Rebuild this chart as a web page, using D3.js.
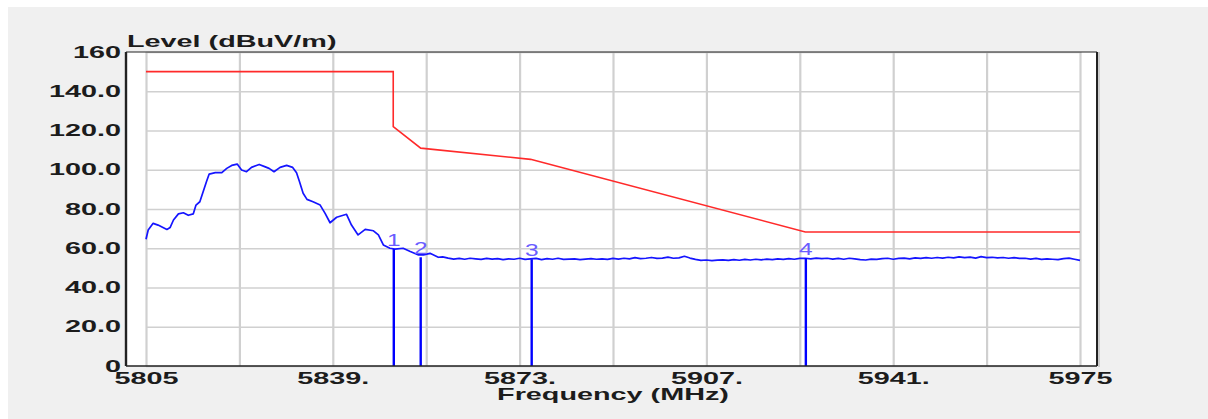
<!DOCTYPE html>
<html><head><meta charset="utf-8">
<script src="https://cdn.jsdelivr.net/npm/d3@7"></script>
<style>html,body{margin:0;padding:0;background:#fff;} svg{display:block;}</style>
</head><body>
<svg id="chart" width="1208" height="419"></svg>
<script>
// ---------- data ----------
const xTickValues = [5805, 5839, 5873, 5907, 5941, 5975];
const xTickLabels = ["5805", "5839.", "5873.", "5907.", "5941.", "5975"];
const xGridValues = [5805, 5822, 5839, 5856, 5873, 5890, 5907, 5924, 5941, 5958, 5975];
const yTickValues = [0, 20, 40, 60, 80, 100, 120, 140, 160];
const yTickLabels = ["0", "20.0", "40.0", "60.0", "80.0", "100.0", "120.0", "140.0", "160"];

const limitFreq  = [5805, 5850, 5850, 5855, 5875, 5925, 5975];
const limitLevel = [150, 150, 122, 111, 105.3, 68.3, 68.3];

const traceFreq = [
  5805.0, 5805.4, 5806.3, 5807.2, 5808.8, 5809.4, 5810.0, 5810.9, 5811.8, 5812.7,
  5813.6, 5814.1, 5814.8, 5815.4, 5816.0, 5816.5, 5817.6, 5818.8, 5819.7, 5820.6,
  5821.6, 5822.4, 5823.3, 5824.2, 5825.6, 5826.6, 5827.4, 5828.3, 5829.4, 5830.6,
  5831.7, 5832.4, 5832.9, 5833.6, 5834.3, 5835.4, 5836.7, 5837.6, 5838.5, 5839.7,
  5841.5, 5842.4, 5843.6, 5844.9, 5846.4, 5847.3, 5848.2, 5849.4, 5850.3, 5851.8,
  5853.1, 5854.6, 5855.5, 5856.7, 5858.2,
  5859, 5860, 5861, 5862, 5863, 5864, 5865, 5866, 5867, 5868,
  5869, 5870, 5871, 5872, 5873, 5874, 5875, 5876, 5877, 5878,
  5879, 5880, 5881, 5882, 5883, 5884, 5885, 5886, 5887, 5888,
  5889, 5890, 5891, 5892, 5893, 5894, 5895, 5896, 5897, 5898,
  5899, 5900, 5901, 5902, 5903, 5904, 5905, 5906, 5907, 5908,
  5909, 5910, 5911, 5912, 5913, 5914, 5915, 5916, 5917, 5918,
  5919, 5920, 5921, 5922, 5923, 5924, 5925, 5926, 5927, 5928,
  5929, 5930, 5931, 5932, 5933, 5934, 5935, 5936, 5937, 5938,
  5939, 5940, 5941, 5942, 5943, 5944, 5945, 5946, 5947, 5948,
  5949, 5950, 5951, 5952, 5953, 5954, 5955, 5956, 5957, 5958,
  5959, 5960, 5961, 5962, 5963, 5964, 5965, 5966, 5967, 5968,
  5969, 5970, 5971, 5972, 5973, 5974, 5975
];
const traceLevel = [
  64.6, 69.3, 72.7, 71.8, 69.6, 70.6, 74.4, 77.5, 78.1, 76.8,
  77.5, 82.0, 83.7, 88.8, 93.9, 97.8, 98.5, 98.5, 100.7, 102.2,
  102.9, 99.9, 99.0, 101.2, 102.7, 101.6, 100.7, 99.0, 101.2, 102.2,
  101.2, 98.5, 94.3, 88.0, 84.9, 83.7, 82.0, 77.8, 73.0, 75.8,
  77.3, 71.8, 66.8, 69.6, 68.9, 66.8, 61.7, 60.0, 59.6, 60.0,
  58.3, 56.6, 56.6, 57.4, 55.4,
  55.6, 55.0, 54.5, 54.8, 54.4, 54.9, 54.6, 54.3, 54.8, 54.5,
  54.7, 54.2, 54.6, 54.4, 54.9, 54.3, 54.6, 54.8, 54.2, 54.7,
  54.4, 54.9, 54.3, 54.5, 54.6, 54.2, 54.5, 54.7, 54.4, 54.6,
  54.3, 54.8, 54.5, 54.9, 54.6, 55.2, 54.7, 54.9, 55.3, 54.8,
  55.0, 55.5, 54.9, 55.1, 55.9, 55.0, 54.3, 53.8, 54.0, 53.7,
  53.9, 54.1, 53.8, 54.2, 53.9, 54.3, 54.0, 54.4, 54.1, 54.5,
  54.2, 54.6, 54.3, 54.7, 54.4, 54.8, 54.9, 54.6, 55.0, 54.7,
  54.9, 54.5, 54.8, 54.4, 54.9, 54.6, 54.2, 54.0, 54.5, 54.3,
  54.7, 54.9, 54.4, 54.8, 55.0, 54.6, 55.1, 54.8, 55.2, 54.9,
  55.3, 55.0, 55.4, 55.1, 55.6, 55.2, 55.5, 55.0, 55.7, 55.2,
  55.4, 55.1, 55.3, 54.9, 55.2, 54.8, 54.9, 54.5, 54.8, 54.3,
  54.6, 54.4, 54.2, 54.7, 55.0, 54.4, 53.8
];

const markerNames = ["1", "2", "3", "4"];
const markerFreq  = [5850.1, 5855.0, 5875.2, 5925.1];
const markerLevel = [59.6, 55.4, 54.4, 54.9];

const yTitle = "Level (dBuV/m)";
const xTitle = "Frequency (MHz)";

// ---------- layout ----------
const frame = {left: 126, top: 52, right: 1097, bottom: 366};
const plot = {left: 146, right: 1080};
const SX = 1.8; // horizontal text stretch of the original
const FONT = "'Liberation Sans', Arial, sans-serif";
const TXT = "#1c1c1c";

const svg = d3.select("#chart");
svg.append("rect").attr("x", 8).attr("y", 7).attr("width", 1200).attr("height", 412).attr("fill", "#f0f0f0");
svg.append("rect").attr("x", frame.left).attr("y", frame.top)
  .attr("width", frame.right - frame.left).attr("height", frame.bottom - frame.top).attr("fill", "#fff");

const x = d3.scaleLinear().domain([5805, 5975]).range([plot.left, plot.right]);
const y = d3.scaleLinear().domain([0, 160]).range([frame.bottom, frame.top]);

// grid
const gx = svg.append("g").attr("transform", `translate(0,${frame.bottom})`)
  .call(d3.axisBottom(x).tickValues(xGridValues).tickSize(-(frame.bottom - frame.top)).tickFormat(""));
gx.select(".domain").remove();
gx.selectAll("line").attr("stroke", "#d0d0d0").attr("stroke-width", 2.2);

const gy = svg.append("g").attr("transform", `translate(${plot.left},0)`)
  .call(d3.axisLeft(y).tickValues(yTickValues).tickSize(-(plot.right - plot.left)).tickFormat(""));
gy.select(".domain").remove();
gy.selectAll("line").attr("stroke", "#d0d0d0").attr("stroke-width", 1.5);

// limit line
svg.append("path")
  .datum(limitFreq.map((f, i) => [f, limitLevel[i]]))
  .attr("fill", "none").attr("stroke", "#ff2a2a").attr("stroke-width", 1.6)
  .attr("d", d3.line().x(d => x(d[0])).y(d => y(d[1])));

// trace
svg.append("path")
  .datum(traceFreq.map((f, i) => [f, traceLevel[i]]))
  .attr("fill", "none").attr("stroke", "#1515ff").attr("stroke-width", 1.7)
  .attr("stroke-linejoin", "round")
  .attr("d", d3.line().x(d => x(d[0])).y(d => y(d[1])));

// markers
const mk = svg.append("g");
markerFreq.forEach((f, i) => {
  mk.append("line").attr("x1", x(f)).attr("x2", x(f)).attr("y1", y(markerLevel[i])).attr("y2", y(0))
    .attr("stroke", "#0000ff").attr("stroke-width", 2.4);
  mk.append("text").attr("transform", `translate(${x(f)},${y(markerLevel[i]) - 3}) scale(${SX * 0.85},1)`)
    .attr("text-anchor", "middle").attr("font-family", FONT).attr("font-size", 16)
    .attr("fill", "#6a5cff").text(markerNames[i]);
});

// frame
svg.append("line").attr("x1", frame.left).attr("x2", frame.right).attr("y1", frame.top).attr("y2", frame.top)
  .attr("stroke", "#222").attr("stroke-width", 1.2);
svg.append("line").attr("x1", frame.right).attr("x2", frame.right).attr("y1", frame.top).attr("y2", frame.bottom)
  .attr("stroke", "#222").attr("stroke-width", 2);
svg.append("line").attr("x1", frame.right + 2).attr("x2", frame.right + 2).attr("y1", frame.top).attr("y2", frame.bottom + 1)
  .attr("stroke", "#aaa").attr("stroke-width", 1);

// axes with labels
const ax = svg.append("g").attr("transform", `translate(0,${frame.bottom})`)
  .call(d3.axisBottom(x).tickValues(xTickValues).tickSize(0).tickPadding(7)
    .tickFormat((d, i) => xTickLabels[i]));
ax.select(".domain").attr("stroke", "#222").attr("stroke-width", 1.6)
  .attr("d", `M${frame.left},0H${frame.right}`);
ax.selectAll("text").attr("font-family", FONT).attr("font-size", 16).attr("font-weight", "bold")
  .attr("fill", TXT).attr("transform", `scale(${SX},1)`);

const ay = svg.append("g").attr("transform", `translate(${frame.left},0)`)
  .call(d3.axisLeft(y).tickValues(yTickValues).tickSize(0).tickPadding(5)
    .tickFormat((d, i) => yTickLabels[i]));
ay.select(".domain").attr("stroke", "#222").attr("stroke-width", 2.4)
  .attr("d", `M0,${frame.top}V${frame.bottom}`);
ay.selectAll("text").attr("font-family", FONT).attr("font-size", 16).attr("font-weight", "bold")
  .attr("fill", TXT).attr("x", -5 / SX).attr("transform", `scale(${SX},1)`);

// titles
svg.append("text").attr("transform", `translate(127,46.5) scale(${SX},1)`)
  .attr("font-family", FONT).attr("font-size", 16).attr("font-weight", "bold").attr("fill", TXT).text(yTitle);
svg.append("text").attr("transform", `translate(613,399.5) scale(${SX},1)`).attr("text-anchor", "middle")
  .attr("font-family", FONT).attr("font-size", 16).attr("font-weight", "bold").attr("fill", TXT).text(xTitle);
</script>
</body></html>
